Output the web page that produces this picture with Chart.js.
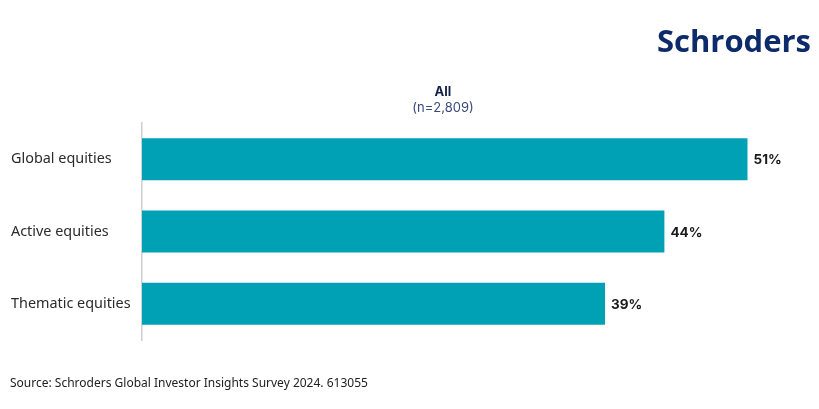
<!DOCTYPE html>
<html>
<head>
<meta charset="utf-8">
<script src="https://cdn.jsdelivr.net/npm/chart.js@4.4.1/dist/chart.umd.min.js"></script>
<style>
  html, body { margin: 0; padding: 0; background: #fff; }
  canvas { display: block; }
</style>
</head>
<body>
<canvas id="grafico" width="819" height="409"></canvas>
<script>
// Datos del gráfico
const categorias = ['Global equities', 'Active equities', 'Thematic equities'];
const valores = [51, 44, 39];
const titulo = 'All';
const subtitulo = '(n=2,809)';
const fuente = 'Source: Schroders Global Investor Insights Survey 2024. 613055';
const logo = 'Schroders';

const colorBarra = '#00a1b5';
const azulMarino = '#0d2b6b';

// Plugin para textos fijos y etiquetas de valores
const textosExtra = {
  id: 'textosExtra',
  afterDraw(chart) {
    const ctx = chart.ctx;
    ctx.save();
    // logo
    ctx.fillStyle = azulMarino;
    ctx.font = 'bold 31px "Open Sans", sans-serif';
    ctx.textAlign = 'right';
    ctx.textBaseline = 'middle';
    ctx.fillText(logo, 811, 43);
    // titulo
    ctx.textAlign = 'center';
    ctx.font = 'bold 13px Inter, sans-serif';
    ctx.fillStyle = '#14224a';
    ctx.fillText(titulo, 443, 92);
    ctx.font = '13px Inter, sans-serif';
    ctx.fillStyle = '#3a4a78';
    ctx.fillText(subtitulo, 443, 108);
    // fuente
    ctx.textAlign = 'left';
    ctx.font = '12px "Noto Sans", sans-serif';
    ctx.fillStyle = '#222';
    ctx.fillText(fuente, 10, 384);
    // etiquetas de valores
    const meta = chart.getDatasetMeta(0);
    ctx.font = 'bold 13.5px Inter, sans-serif';
    ctx.fillStyle = '#1a1a1a';
    meta.data.forEach((bar, i) => {
      ctx.fillText(valores[i] + '%', bar.x + 6, bar.y + 1);
    });
    ctx.restore();
  }
};

new Chart(document.getElementById('grafico'), {
  type: 'bar',
  data: {
    labels: categorias,
    datasets: [{
      data: valores,
      backgroundColor: colorBarra,
      borderWidth: 0,
      categoryPercentage: 1,
      barPercentage: 0.58
    }]
  },
  options: {
    indexAxis: 'y',
    responsive: false,
    maintainAspectRatio: false,
    animation: false,
    layout: { padding: { left: 11, right: 24, top: 123, bottom: 69 } },
    plugins: {
      legend: { display: false },
      tooltip: { enabled: false }
    },
    scales: {
      x: {
        display: false,
        min: 0,
        max: 55
      },
      y: {
        grid: { display: false },
        border: { display: true, color: '#cfcfcf', width: 1.5 },
        ticks: {
          crossAlign: 'far',
          color: '#2b2b2b',
          font: { family: '"Noto Sans", sans-serif', size: 14.4 },
          padding: 4
        },
        afterFit(scale) { scale.width = 131; }
      }
    }
  },
  plugins: [textosExtra]
});
</script>
</body>
</html>
